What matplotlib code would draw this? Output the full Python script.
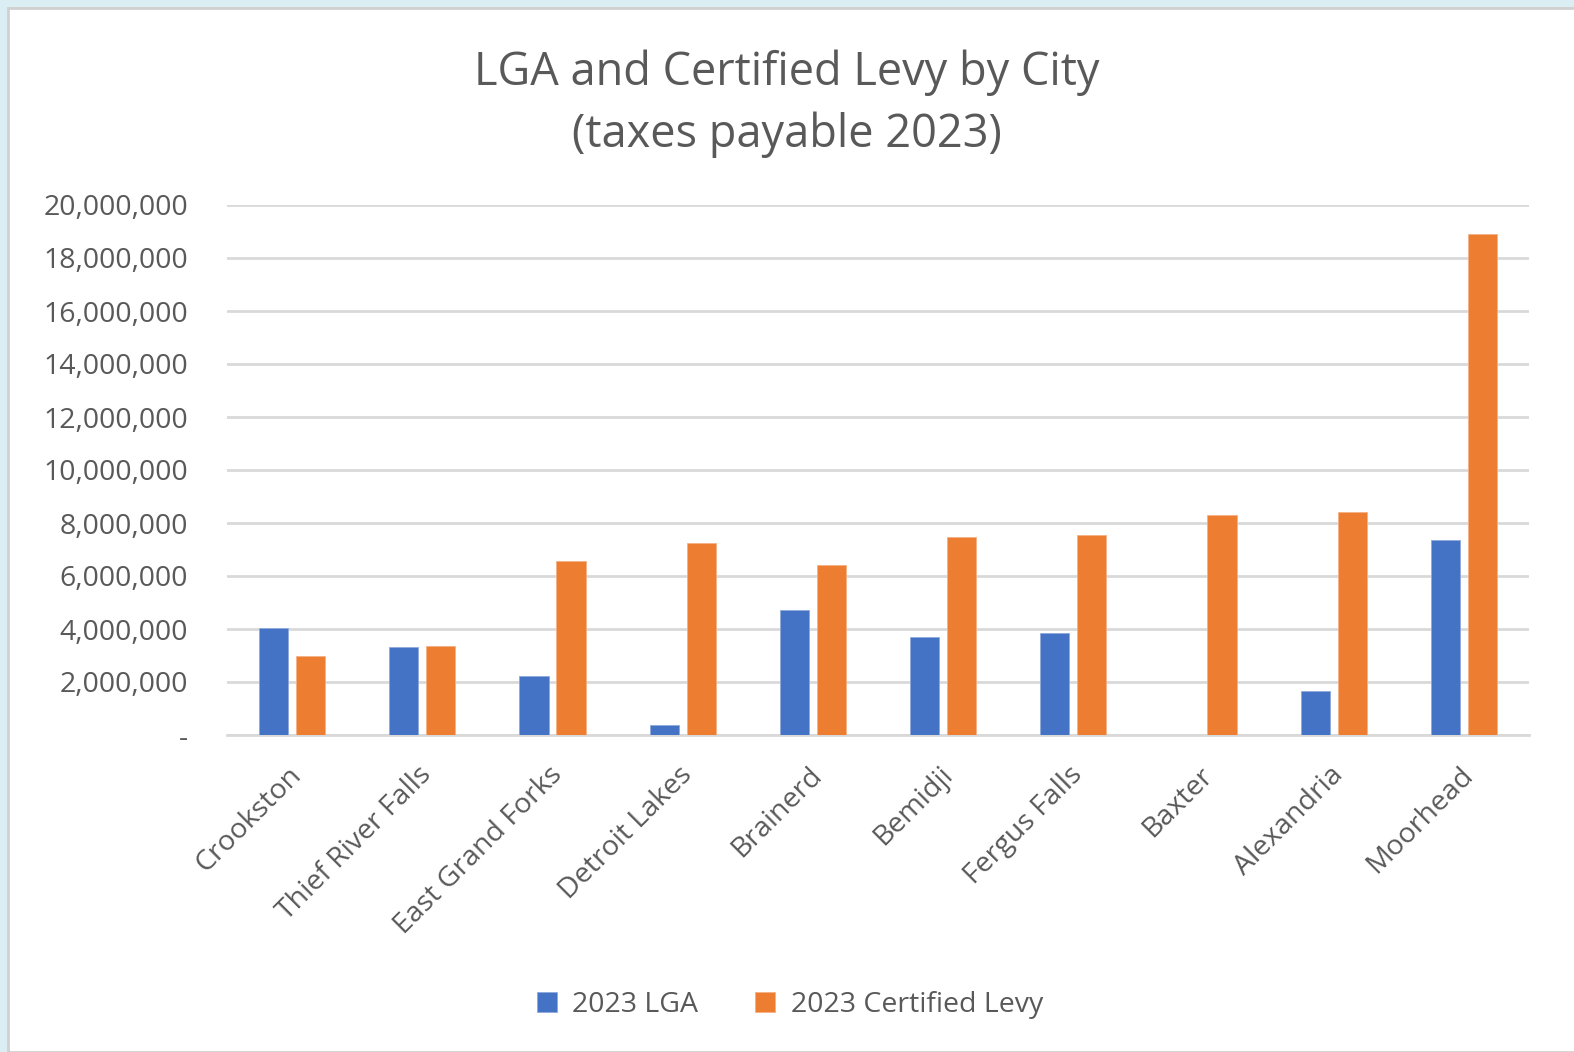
import numpy as np
import matplotlib
matplotlib.use("Agg")
import matplotlib.pyplot as plt
from matplotlib.patches import Rectangle
from matplotlib.ticker import FuncFormatter
from matplotlib.transforms import ScaledTranslation

# datos (pago de impuestos 2023)
cities = ["Crookston", "Thief River Falls", "East Grand Forks", "Detroit Lakes",
          "Brainerd", "Bemidji", "Fergus Falls", "Baxter", "Alexandria", "Moorhead"]
lga = [4040000, 3320000, 2230000, 380000, 4720000, 3700000, 3850000, 0, 1660000, 7360000]
levy = [2980000, 3360000, 6570000, 7250000, 6420000, 7470000, 7550000, 8300000, 8420000, 18900000]
series_names = ["2023 LGA", "2023 Certified Levy"]

plt.rcParams['font.family'] = ['Open Sans', 'DejaVu Sans']
gris = '#595959'

fig = plt.figure(figsize=(15.74, 10.52), dpi=100)
fig.patch.set_facecolor('#DAEEF3')
# panel blanco del grafico
fig.patches.append(Rectangle((8/1574, 0), 1, 1 - 8/1052, transform=fig.transFigure,
                             facecolor='white', edgecolor='#D0D0D0', linewidth=2, zorder=-10))

ax = fig.add_axes([227/1574, 317/1052, 1302/1574, 530/1052])
ax.set_facecolor('none')

x = np.arange(len(cities))
w = 0.223
off = 0.142
ax.bar(x - off, lga, w, color='#4472C4', edgecolor='#8FAADC', linewidth=0.6, label=series_names[0], zorder=3)
ax.bar(x + off, levy, w, color='#ED7D31', edgecolor='#F4B183', linewidth=0.6, label=series_names[1], zorder=3)

ax.set_xlim(-0.5, len(cities) - 0.5)
ax.set_ylim(0, 20000000)
ax.set_yticks(np.arange(0, 20000001, 2000000))
ax.yaxis.set_major_formatter(FuncFormatter(lambda v, p: '-' if v == 0 else f"{v:,.0f}"))
ax.grid(axis='y', color='#D9D9D9', linewidth=2, zorder=0)
for s in ['top', 'right', 'left']:
    ax.spines[s].set_visible(False)
ax.spines['bottom'].set_color('#D9D9D9')
ax.spines['bottom'].set_linewidth(2)
ax.tick_params(axis='both', length=0, colors=gris, labelsize=20.5)
ax.tick_params(axis='y', pad=28)

ax.set_xticks(x)
ax.set_xticklabels(cities, rotation=45, ha='right', va='center', rotation_mode='anchor')
ax.tick_params(axis='x', pad=26)
# desplazar un poco las etiquetas a la derecha
desp = ScaledTranslation(4/72, 0, fig.dpi_scale_trans)
for lbl in ax.get_xticklabels():
    lbl.set_transform(lbl.get_transform() + desp)

fig.text(0.5, 1 - 73/1052, "LGA and Certified Levy by City", ha='center', va='center',
         fontsize=32.5, color=gris)
fig.text(0.5, 1 - 135/1052, "(taxes payable 2023)", ha='center', va='center',
         fontsize=32.5, color=gris)

fig.legend(loc='center', bbox_to_anchor=(790/1574, 1 - 1005/1052), ncol=2, frameon=False,
           fontsize=20.5, labelcolor=gris, handlelength=0.7, handleheight=0.7,
           handletextpad=0.55, columnspacing=2.0)

fig.savefig('out.png', dpi=100, facecolor=fig.get_facecolor())
